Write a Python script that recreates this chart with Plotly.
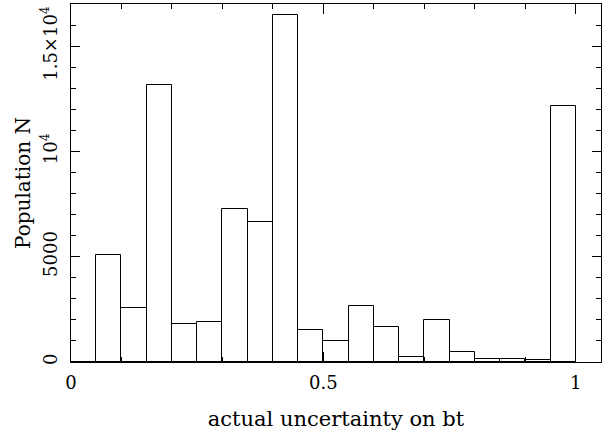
import plotly.graph_objects as go

bin_left = [0.00, 0.05, 0.10, 0.15, 0.20, 0.25, 0.30, 0.35, 0.40, 0.45,
            0.50, 0.55, 0.60, 0.65, 0.70, 0.75, 0.80, 0.85, 0.90, 0.95]
counts = [0, 5060, 2560, 13150, 1800, 1880, 7250, 6650, 16500, 1520,
          980, 2670, 1640, 260, 1990, 460, 160, 145, 80, 12170]
bin_width = 0.05

y_label_alias = {"10000": "10<sup>4</sup>", "15000": "1.5×10<sup>4</sup>"}

font_family = "DejaVu Serif"

fig = go.Figure()
fig.add_trace(go.Bar(
    x=[b + bin_width / 2 for b in bin_left],
    y=counts,
    width=bin_width,
    marker=dict(color="white", line=dict(color="black", width=1)),
))

fig.update_layout(
    width=610, height=434,
    margin=dict(l=71, r=9, t=4, b=72),
    paper_bgcolor="white", plot_bgcolor="white",
    showlegend=False,
    bargap=0,
    font=dict(family=font_family, size=18, color="black"),
    xaxis=dict(
        range=[0, 1.05], showgrid=False, zeroline=False, automargin=False,
        showline=True, linecolor="black", linewidth=1, mirror="allticks",
        layer="above traces",
        ticks="inside", ticklen=10, tickwidth=1, tickcolor="black",
        tickmode="linear", tick0=0, dtick=0.5,
        ticklabelstandoff=4,
        minor=dict(ticks="inside", dtick=0.1, ticklen=5, tickwidth=1,
                   tickcolor="black", showgrid=False),
        title=dict(text="actual uncertainty on bt", standoff=19, font=dict(size=21)),
        tickfont=dict(size=18),
    ),
    yaxis=dict(
        range=[0, 17000], showgrid=False, zeroline=False, automargin=False,
        showline=True, linecolor="black", linewidth=1, mirror="allticks",
        layer="above traces",
        ticks="inside", ticklen=9, tickwidth=1, tickcolor="black",
        tickmode="linear", tick0=0, dtick=5000, tickformat="d",
        labelalias=y_label_alias, tickangle=-90, ticklabelstandoff=6,
        minor=dict(ticks="inside", dtick=1000, ticklen=5, tickwidth=1,
                   tickcolor="black", showgrid=False),
        title=dict(text="Population N", standoff=1, font=dict(size=20)),
        tickfont=dict(size=18),
    ),
)

fig.write_html("out.html", config={"displayModeBar": False},
               post_script="document.body.style.margin='0';")
